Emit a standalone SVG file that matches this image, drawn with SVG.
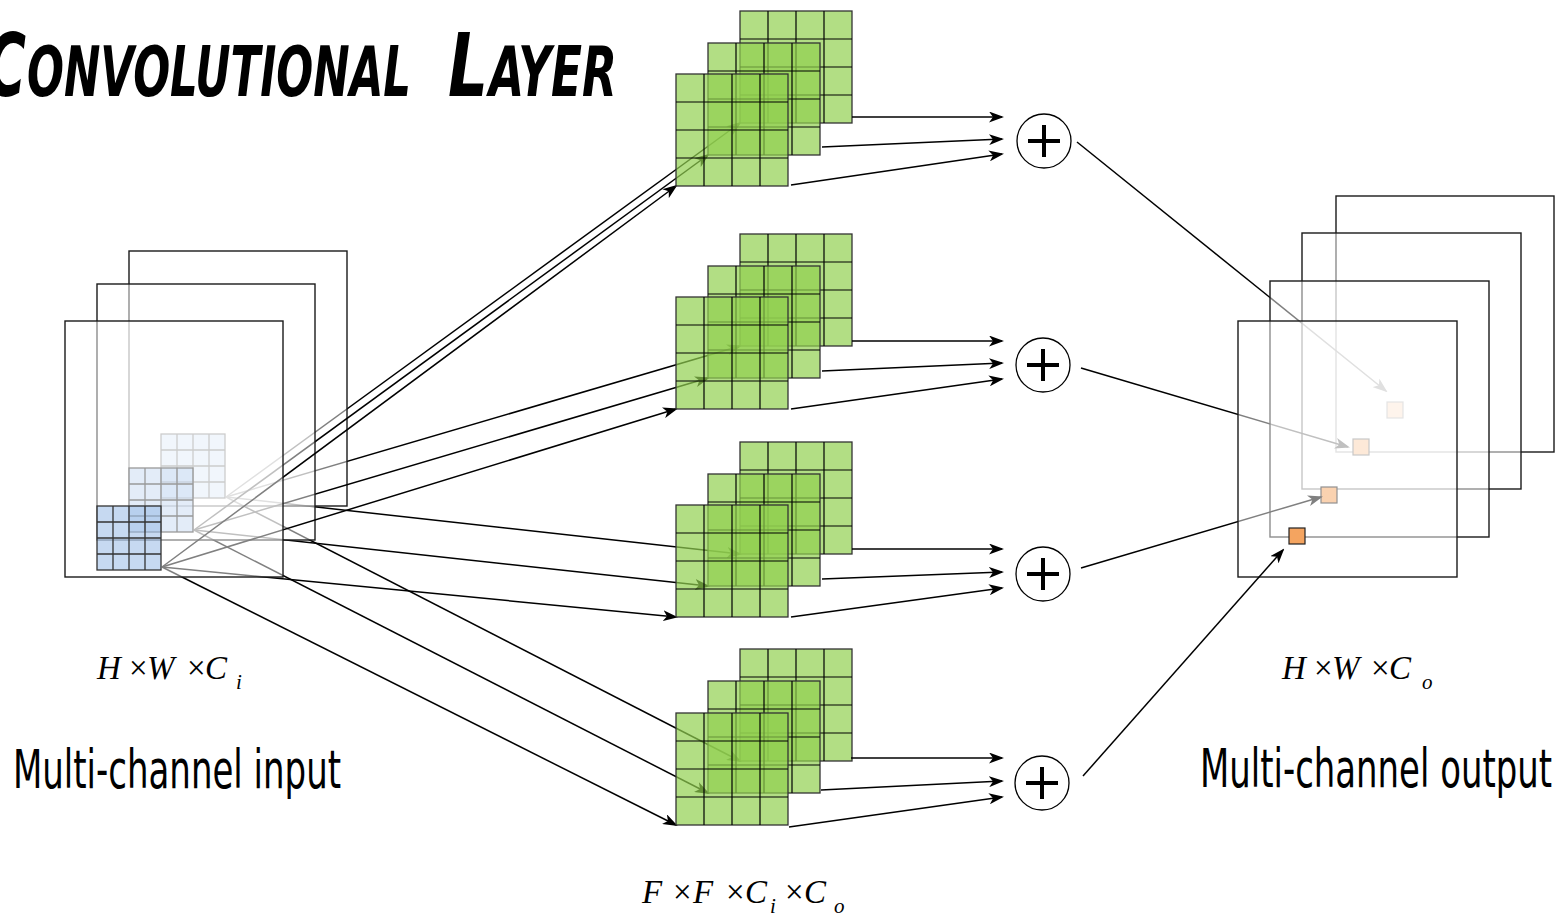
<svg xmlns="http://www.w3.org/2000/svg" xmlns:xlink="http://www.w3.org/1999/xlink" width="1558" height="915" viewBox="0 0 1558 915">
<style>
.fr{fill:#fff;fill-opacity:.5;stroke:#1a1a1a;stroke-width:1.4}
.ln{fill:none;stroke:#000;stroke-width:1.5;marker-end:url(#ah)}
.kf{fill:#92d050;fill-opacity:.7;stroke:#333;stroke-width:1.3}
.kg{stroke:#000;stroke-width:1.2;fill:none}
.pf{fill:#8eb4e3;fill-opacity:.5;stroke:#333;stroke-width:1.3}
.pg{stroke:#333;stroke-width:1.3;fill:none}
.sq{fill:#f4a460;stroke:#222;stroke-width:1.2}
.plus circle{fill:#fff;stroke:#000;stroke-width:1.3}
.plus path{stroke:#000;stroke-width:4;fill:none}
.title{font-family:"Liberation Sans Narrow","DejaVu Sans Condensed","Liberation Sans",sans-serif;font-weight:bold;font-style:italic;fill:#000}
.lab{font-family:"Liberation Sans Narrow","DejaVu Sans Condensed","Liberation Sans",sans-serif;font-size:53px;fill:#000}
.math{font-family:"Liberation Serif","Times New Roman",serif;font-style:italic;font-size:33px;fill:#000}
.up{font-style:normal}
.sub{font-size:21px}
</style>
<defs>
<marker id="ah" viewBox="0 0 15 11" refX="13" refY="5.5" markerWidth="15" markerHeight="11" markerUnits="userSpaceOnUse" orient="auto"><path d="M0,0 L15,5.5 L0,11 L4,5.5 z" fill="#000"/></marker>
<g id="kern"><rect width="112" height="112" class="kf"/><path class="kg" d="M28 0V112M56 0V112M84 0V112M0 28H112M0 56H112M0 84H112"/></g>
<g id="patch"><rect width="64" height="64" class="pf"/><path class="pg" d="M16 0V64M32 0V64M48 0V64M0 16H64M0 32H64M0 48H64"/></g>
</defs>
<rect width="1558" height="915" fill="#fff"/>

<text class="title" y="96"><tspan x="-14" font-size="88" textLength="40" lengthAdjust="spacingAndGlyphs">C</tspan><tspan x="27" font-size="70" textLength="384" lengthAdjust="spacingAndGlyphs">ONVOLUTIONAL</tspan> <tspan x="448" font-size="88" textLength="40" lengthAdjust="spacingAndGlyphs">L</tspan><tspan x="489" font-size="70" textLength="128" lengthAdjust="spacingAndGlyphs">AYER</tspan></text>

<!-- input: back channel -->
<g id="conn-in-c3" class="connectors">
<path class="ln" d="M226 497L740 123"/>
<path class="ln" d="M226 497L740 346"/>
<path class="ln" d="M226 497L740 554"/>
<path class="ln" d="M226 497L740 761"/>
</g>
<g id="input-ch3"><rect class="fr" x="129" y="251" width="218" height="255"/><use href="#patch" x="161" y="434"/></g>
<g id="conn-in-c2" class="connectors">
<path class="ln" d="M194 530L708 155"/>
<path class="ln" d="M194 530L708 378"/>
<path class="ln" d="M194 530L708 586"/>
<path class="ln" d="M194 530L708 793"/>
</g>
<g id="input-ch2"><rect class="fr" x="97" y="284" width="218" height="256"/><use href="#patch" x="129" y="468"/></g>
<g id="conn-in-c1" class="connectors">
<path class="ln" d="M162 567L676 186"/>
<path class="ln" d="M162 567L676 409"/>
<path class="ln" d="M162 567L676 617"/>
<path class="ln" d="M162 567L676 825"/>
</g>
<g id="input-ch1"><rect class="fr" x="65" y="321" width="218" height="256"/><use href="#patch" x="97" y="506"/></g>

<!-- filters -->
<g id="filter-1"><use href="#kern" x="740" y="11"/><use href="#kern" x="708" y="43"/><use href="#kern" x="676" y="74"/></g>
<g id="filter-2"><use href="#kern" x="740" y="234"/><use href="#kern" x="708" y="266"/><use href="#kern" x="676" y="297"/></g>
<g id="filter-3"><use href="#kern" x="740" y="442"/><use href="#kern" x="708" y="474"/><use href="#kern" x="676" y="505"/></g>
<g id="filter-4"><use href="#kern" x="740" y="649"/><use href="#kern" x="708" y="681"/><use href="#kern" x="676" y="713"/></g>

<g id="conn-sum" class="connectors">
<path class="ln" d="M852 117H1002"/>
<path class="ln" d="M822 147L1002 139"/>
<path class="ln" d="M791 185L1002 154"/>
<path class="ln" d="M852 341H1002"/>
<path class="ln" d="M822 371L1002 363"/>
<path class="ln" d="M791 409L1002 379"/>
<path class="ln" d="M852 549H1002"/>
<path class="ln" d="M822 579L1002 572"/>
<path class="ln" d="M791 617L1002 588"/>
<path class="ln" d="M851 758H1002"/>
<path class="ln" d="M821 790L1002 781"/>
<path class="ln" d="M789 827L1002 797"/>
</g>

<g id="sum-1" class="plus"><circle cx="1044" cy="141" r="27"/><path d="M1028 141H1060M1044 125V157"/></g>
<g id="sum-2" class="plus"><circle cx="1043" cy="365" r="27"/><path d="M1027 365H1059M1043 349V381"/></g>
<g id="sum-3" class="plus"><circle cx="1043" cy="574" r="27"/><path d="M1027 574H1059M1043 558V590"/></g>
<g id="sum-4" class="plus"><circle cx="1042" cy="783" r="27"/><path d="M1026 783H1058M1042 767V799"/></g>

<!-- output -->
<g id="output-ch4"><rect class="fr" x="1336" y="196" width="218" height="256"/><rect class="sq" x="1387" y="402" width="16" height="16"/></g>
<g id="conn-out-1" class="connectors"><path class="ln" d="M1077 142L1386 391"/></g>
<g id="output-ch3"><rect class="fr" x="1302" y="233" width="219" height="256"/><rect class="sq" x="1353" y="439" width="16" height="16"/></g>
<g id="conn-out-2" class="connectors"><path class="ln" d="M1081 368L1348 447"/></g>
<g id="output-ch2"><rect class="fr" x="1270" y="281" width="219" height="256"/><rect class="sq" x="1321" y="487" width="16" height="16"/></g>
<g id="conn-out-3" class="connectors"><path class="ln" d="M1081 568L1321 497"/></g>
<g id="output-ch1"><rect class="fr" x="1238" y="321" width="219" height="256"/><rect class="sq" x="1289" y="528" width="16" height="16"/></g>
<g id="conn-out-4" class="connectors"><path class="ln" d="M1083 776L1283 550"/></g>

<!-- labels -->
<text class="math" y="679"><tspan x="97">H</tspan><tspan x="129" class="up">×</tspan><tspan x="147">W</tspan><tspan x="187" class="up">×</tspan><tspan x="205">C</tspan><tspan x="236" y="689" class="sub">i</tspan></text>
<text class="math" y="679"><tspan x="1282">H</tspan><tspan x="1314" class="up">×</tspan><tspan x="1332">W</tspan><tspan x="1371" class="up">×</tspan><tspan x="1389">C</tspan><tspan x="1422" y="689" class="sub">o</tspan></text>
<text class="math" y="903"><tspan x="642">F</tspan><tspan x="673" class="up">×</tspan><tspan x="693">F</tspan><tspan x="726" class="up">×</tspan><tspan x="745">C</tspan><tspan x="770" y="913" class="sub">i</tspan><tspan x="785" y="903" class="up">×</tspan><tspan x="804">C</tspan><tspan x="834" y="913" class="sub">o</tspan></text>
<text class="lab" x="13" y="788" textLength="328" lengthAdjust="spacingAndGlyphs">Multi-channel input</text>
<text class="lab" x="1200" y="787" textLength="352" lengthAdjust="spacingAndGlyphs">Multi-channel output</text>
</svg>
